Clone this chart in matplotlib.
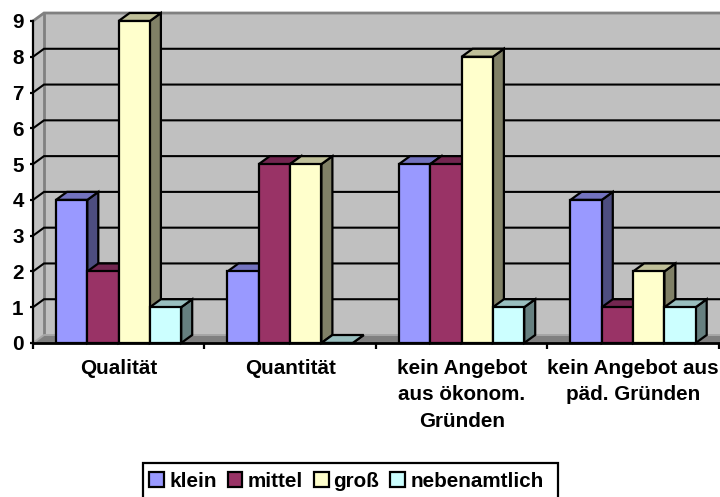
import matplotlib
matplotlib.use("Agg")
import matplotlib.pyplot as plt
from matplotlib.patches import Polygon, Rectangle

plt.rcParams['font.family'] = ['Liberation Sans', 'DejaVu Sans']
plt.rcParams['font.weight'] = 'bold'
plt.rcParams['font.size'] = 14.9

categories = ['Qualität', 'Quantität', 'kein Angebot\naus ökonom.\nGründen',
              'kein Angebot aus\npäd. Gründen']
series = ['klein', 'mittel', 'groß', 'nebenamtlich']
klein = [4, 2, 5, 4]
mittel = [2, 5, 5, 1]
gross = [9, 5, 8, 2]
neben = [1, 0, 1, 1]
values = [klein, mittel, gross, neben]

front = ['#9999FF', '#993366', '#FFFFCC', '#CCFFFF']
top = ['#7373BF', '#732650', '#BFBF99', '#99BFBF']
side = ['#4D4D80', '#4D1A33', '#808066', '#668080']

W, H = 720, 497
dx = 11 / 171.5   # depth of the 3d effect in data units
dy = 8 / 35.8
bar_w = 31.3 / 171.5
gap = 23 / 171.5
edge_lw = 1.6

fig = plt.figure(figsize=(W / 100, H / 100), dpi=100)
ax = fig.add_axes([33 / W, (H - 343) / H, 686 / W, 322 / H])
ax.set_xlim(0, 4)
ax.set_ylim(0, 9)
ax.set_facecolor('none')


def poly(pts, color, edge='none', lw=0, z=1):
    ax.add_patch(Polygon(pts, closed=True, facecolor=color, edgecolor=edge,
                         linewidth=lw, zorder=z, clip_on=False, joinstyle='miter'))


# walls and floor
poly([(dx, dy), (4.2, dy), (4.2, 9 + dy), (dx, 9 + dy)], '#C0C0C0')
poly([(0, 0), (dx, dy), (dx, 9 + dy), (0, 9)], '#C0C0C0')
poly([(0, 0), (dx, dy), (4.2, dy), (4.2, 0)], '#808080')
ax.plot([0, dx, dx, 4.2], [9, 9 + dy, 9 + dy, 9 + dy], color='#808080', lw=2,
        zorder=1.5, clip_on=False, solid_joinstyle='miter')
ax.plot([dx, dx], [dy, 9 + dy], color='#808080', lw=2, zorder=1.5, clip_on=False)
ax.plot([0, dx, 4.2], [0, dy, dy], color='#A6A6A6', lw=1.4, zorder=1.6, clip_on=False)

for v in range(1, 9):
    ax.plot([0, dx, 4.2], [v, v + dy, v + dy], color='black', lw=1.5, zorder=2,
            clip_on=False, solid_joinstyle='miter')

# bars, left to right so the next one covers the side of the previous one
z = 3
for c in range(len(categories)):
    for s in range(len(series)):
        v = values[s][c]
        x0 = c + gap + s * bar_w
        x1 = x0 + bar_w
        poly([(x1, 0), (x1 + dx, dy), (x1 + dx, v + dy), (x1, v)], side[s],
             'black', edge_lw, z)
        poly([(x0, v), (x0 + dx, v + dy), (x1 + dx, v + dy), (x1, v)], top[s],
             'black', edge_lw, z + 0.1)
        ax.bar(x0, v, width=bar_w, align='edge', color=front[s], edgecolor='black',
               linewidth=edge_lw, zorder=z + 0.2, clip_on=False,
               label=series[s] if c == 0 else None)
        z += 1

for name in ['top', 'right']:
    ax.spines[name].set_visible(False)
ax.spines['left'].set_linewidth(1.6)
ax.spines['bottom'].set_linewidth(2)
ax.spines['left'].set_zorder(100)
ax.spines['bottom'].set_zorder(100)

ax.set_yticks(range(10))
ax.tick_params(axis='y', length=2.2, width=1.6, pad=4.5)
ax.set_xticks(range(5))
ax.set_xticklabels([])
ax.tick_params(axis='x', which='major', length=4.3, width=1.6)
ax.set_xticks([0.5, 1.5, 2.5, 3.5], minor=True)
ax.set_xticklabels(categories, minor=True, linespacing=1.5)
ax.tick_params(axis='x', which='minor', length=0, pad=11.5)

# legend frame runs off the bottom of the picture, so it is drawn on its own
fig.add_artist(Rectangle((143 / W, -5 / H), 415 / W, (H - 463 + 5) / H, facecolor='white',
                         edgecolor='black', linewidth=1.6, transform=fig.transFigure,
                         zorder=-1))
leg = ax.legend(loc='lower left', bbox_to_anchor=(143 / W, 0), bbox_transform=fig.transFigure,
                ncol=4, fontsize=14.9, frameon=False,
                handlelength=0.72, handleheight=0.72,
                handletextpad=0.24, columnspacing=0.53, borderpad=0.3, borderaxespad=0)
leg.set_zorder(200)
for h in leg.get_patches():
    h.set_linewidth(1.6)

fig.savefig('out.png', dpi=100, facecolor='white')
